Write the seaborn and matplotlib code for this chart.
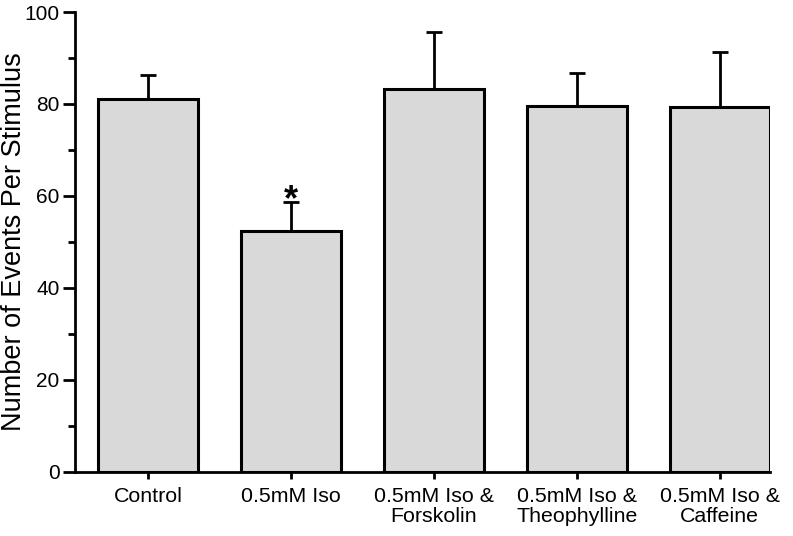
import matplotlib
matplotlib.use("Agg")
import matplotlib.pyplot as plt
import seaborn as sns
import numpy as np
from matplotlib.ticker import MultipleLocator

categories = ["Control", "0.5mM Iso", "0.5mM Iso &\nForskolin",
              "0.5mM Iso &\nTheophylline", "0.5mM Iso &\nCaffeine"]
means = [81.1, 52.4, 83.3, 79.6, 79.3]
errors = [5.2, 6.2, 12.4, 7.1, 12.1]
y_ticks = [0, 20, 40, 60, 80, 100]

sns.set_theme(style="ticks")
plt.rcParams['font.family'] = ['Liberation Sans', 'DejaVu Sans']
plt.rcParams.update({"text.color": "black", "axes.labelcolor": "black",
                     "xtick.color": "black", "ytick.color": "black"})

fig = plt.figure(figsize=(7.93, 5.36), dpi=100)
ax = fig.add_axes([0.0946, 0.12, 0.876, 0.8576])

sns.barplot(x=categories, y=means, color="#d9d9d9", edgecolor="black",
            linewidth=2.2, width=0.7, saturation=1, ax=ax, zorder=3)
xs = np.arange(len(categories))
ax.errorbar(xs, means, yerr=[np.zeros(len(means)), errors], fmt="none",
            ecolor="black", elinewidth=2, capsize=5.5, capthick=2, zorder=2)

ax.text(1, 56.8, "*", ha="center", va="baseline",
        fontsize=26, fontweight="bold")

ax.set_xlim(-0.51, 4.35)
ax.set_ylim(0, 100)
ax.set_yticks(y_ticks)
ax.yaxis.set_minor_locator(MultipleLocator(10))
ax.set_ylabel("Number of Events Per Stimulus", fontsize=19.5)
ax.yaxis.set_label_coords(-0.069, 0.5)
ax.set_xlabel("")
for s in ["top", "right"]:
    ax.spines[s].set_visible(False)
for s in ["left", "bottom"]:
    ax.spines[s].set_linewidth(2)
    ax.spines[s].set_color("black")
ax.tick_params(axis="y", which="major", length=9, width=2, labelsize=15, pad=2)
ax.tick_params(axis="y", which="minor", length=5, width=2)
ax.tick_params(axis="x", which="major", length=5, width=2, labelsize=15.4, pad=6)
for lbl in ax.get_xticklabels():
    lbl.set_linespacing(1.05)

fig.savefig("out.png", dpi=100)
